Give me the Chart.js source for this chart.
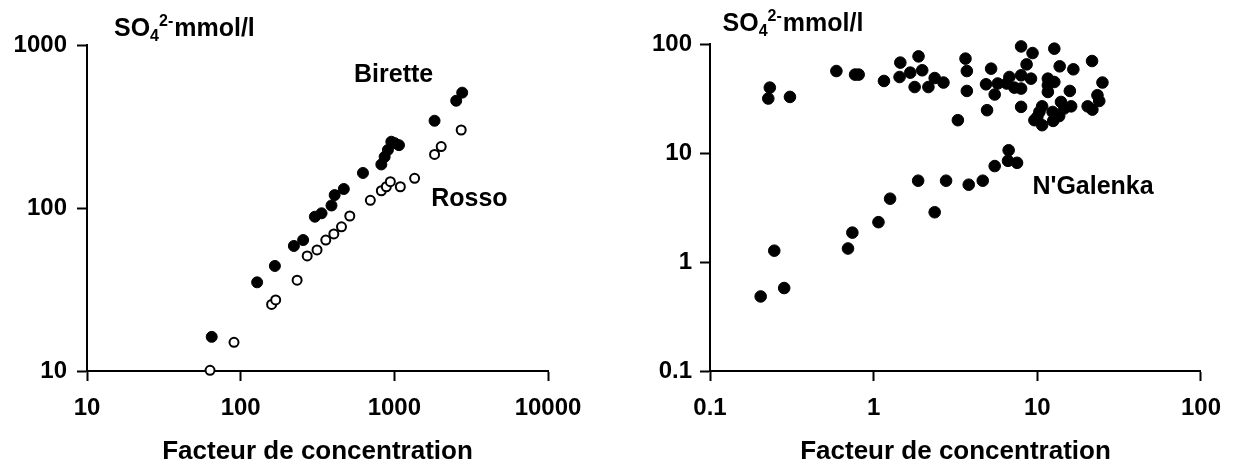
<!DOCTYPE html>
<html><head><meta charset="utf-8">
<script src="https://cdn.jsdelivr.net/npm/chart.js@4.4.1/dist/chart.umd.min.js"></script>
<style>
html,body{margin:0;padding:0;background:#fff;width:1234px;height:467px;overflow:hidden}
.c{position:absolute;top:0;height:467px;width:617px}
#wl{left:0}
#wr{left:617px}
</style></head><body>
<div class="c" id="wl"><canvas id="cl"></canvas></div>
<div class="c" id="wr"><canvas id="cr"></canvas></div>
<script>
const FONT = "'Liberation Sans', Arial, sans-serif";

// tick values
const leftXTicks = [10, 100, 1000, 10000];
const leftYTicks = [10, 100, 1000];
const rightXTicks = [0.1, 1, 10, 100];
const rightYTicks = [0.1, 1, 10, 100];

// Left chart: Birette (filled) and Rosso (open)
const biretteX = [64.8, 128, 167, 222, 255, 304, 336, 390, 409, 469, 625, 823, 865, 908, 956, 1005, 1072, 1827, 2527, 2765];
const biretteY = [16.2, 35.0, 44.1, 58.5, 63.6, 88.4, 92.8, 103.6, 120, 130.8, 164, 185, 206, 227, 255, 250, 243, 343, 455, 510];
const rossoX = [63.2, 90.5, 159, 169, 233, 271, 314, 358, 404, 453, 513, 698, 823, 887, 942, 1094, 1355, 1827, 2018, 2723];
const rossoY = [10.1, 15.0, 25.6, 27.3, 36.1, 50.8, 55.3, 63.6, 69.3, 76.7, 89.3, 111.4, 127.6, 135, 145, 135, 152, 213, 238, 301];

// Right chart: N'Galenka
const ngalenkaX = [0.204, 0.284, 0.247, 0.697, 0.741, 1.07, 1.26, 1.87, 2.36, 2.77, 3.81, 4.64, 5.49, 6.68, 6.62, 7.52,
  0.232, 0.227, 0.308, 0.592, 0.77, 0.81, 1.156, 1.455, 1.44, 1.674, 1.88, 1.98, 1.78, 2.16, 2.36, 2.67,
  3.64, 3.71, 3.71, 3.27, 4.93, 5.22, 4.86, 5.49, 5.73, 6.75, 6.5, 7.24, 7.96, 9.35, 8.6, 7.96, 7.96, 9.15, 7.96,
  12.7, 13.7, 11.6, 11.6, 12.7, 11.6, 15.8, 16.6, 21.6, 25, 23.3, 23.9, 20.3, 21.7,
  10.7, 10.3, 9.6, 10.7, 10.0, 12.5, 12.4, 13.95, 13.6, 16.1, 14.6];
const ngalenkaY = [0.483, 0.577, 1.27, 1.33, 1.86, 2.32, 3.81, 5.57, 2.86, 5.57, 5.12, 5.57, 7.59, 10.6, 8.48, 8.13,
  39.8, 31.6, 32.7, 56.5, 52.4, 52.4, 45.8, 67.5, 49.8, 54.6, 77, 57.4, 40.3, 40.3, 48.7, 44.3,
  73.4, 56.5, 37.1, 20.0, 24.7, 59.4, 42.7, 34.4, 43.4, 49.8, 43.4, 39.8, 95, 82.6, 65, 51.6, 39, 48.1, 26.5,
  90.6, 62.4, 48.1, 41.8, 44.8, 36.3, 37.1, 58.6, 69.8, 44.3, 33.9, 30, 26.8, 25,
  26.8, 23.8, 20, 18, 21.4, 19.7, 23.8, 29.4, 21.8, 26.8, 25.6];

const xTitle = 'Facteur de concentration';
const yTitleParts = { main: 'SO', sub: '4', sup: '2-', unit: 'mmol/l' };
const leftLabels = [{ text: 'Birette', x: 990, y: 655 }, { text: 'Rosso', x: 3080, y: 113.5 }];
const rightLabels = [{ text: "N'Galenka", x: 21.9, y: 4.88 }];

function pts(xs, ys) { return xs.map((x, i) => ({ x: x, y: ys[i] })); }

function logAxis(ticksArr, isX, min, max, size, pad) {
  return {
    type: 'logarithmic', min: min, max: max, position: isX ? 'bottom' : 'left',
    afterBuildTicks: s => { s.ticks = ticksArr.map(v => ({ value: v })); },
    afterFit: s => { if (isX) s.height = size; else s.width = size; },
    grid: { display: true, drawOnChartArea: false, drawTicks: true, tickLength: 10, tickWidth: 2, tickColor: '#000' },
    border: { display: true, color: '#000', width: 2 },
    ticks: { color: '#000', font: { family: FONT, size: 24, weight: 'bold' }, padding: pad,
      autoSkip: false, maxRotation: 0, callback: v => String(v) },
    title: isX ? { display: true, text: xTitle, color: '#000', font: { family: FONT, size: 26, weight: 'bold', lineHeight: 1.2 }, padding: 0 } : { display: false }
  };
}

const labelPlugin = {
  id: 'textLabels',
  afterDatasetsDraw(chart, args, opts) {
    const ctx = chart.ctx, xs = chart.scales.x, ys = chart.scales.y;
    ctx.save();
    ctx.fillStyle = '#000';
    ctx.font = 'bold 25px ' + FONT;
    ctx.textAlign = 'center';
    ctx.textBaseline = 'middle';
    for (const a of opts.items) ctx.fillText(a.text, xs.getPixelForValue(a.x), ys.getPixelForValue(a.y));
    // y axis title with subscript/superscript
    let x = chart.chartArea.left + opts.titleDx;
    const base = opts.titleBase;
    ctx.textAlign = 'left';
    ctx.textBaseline = 'alphabetic';
    ctx.font = 'bold 25px ' + FONT;
    ctx.fillText(yTitleParts.main, x, base);
    x += ctx.measureText(yTitleParts.main).width;
    ctx.font = 'bold 16px ' + FONT;
    ctx.fillText(yTitleParts.sub, x, base + 5);
    const wsub = ctx.measureText(yTitleParts.sub).width;
    ctx.fillText(yTitleParts.sup, x + wsub, base - 10);
    x += wsub + ctx.measureText(yTitleParts.sup).width + 1;
    ctx.font = 'bold 25px ' + FONT;
    ctx.fillText(yTitleParts.unit, x, base);
    ctx.restore();
  }
};

const filled = { pointRadius: 5.5, pointBackgroundColor: '#000', pointBorderColor: '#000', pointBorderWidth: 1, showLine: false, clip: false };
const open = { pointRadius: 4.5, pointBackgroundColor: '#fff', pointBorderColor: '#000', pointBorderWidth: 2, showLine: false, clip: false };

new Chart(document.getElementById('cl'), {
  type: 'scatter',
  data: { datasets: [
    Object.assign({ label: 'Birette', data: pts(biretteX, biretteY) }, filled),
    Object.assign({ label: 'Rosso', data: pts(rossoX, rossoY) }, open)
  ] },
  options: {
    responsive: true, maintainAspectRatio: false, animation: false,
    layout: { padding: { left: 0, right: 69, top: 45, bottom: 0 } },
    scales: { x: logAxis(leftXTicks, true, 10, 10000, 96, 13), y: logAxis(leftYTicks, false, 10, 1000, 87, 10) },
    plugins: { legend: { display: false }, tooltip: { enabled: false },
      textLabels: { items: leftLabels, titleDx: 27, titleBase: 36 } }
  },
  plugins: [labelPlugin]
});

new Chart(document.getElementById('cr'), {
  type: 'scatter',
  data: { datasets: [
    Object.assign({ label: "N'Galenka", data: pts(ngalenkaX, ngalenkaY) }, filled, { pointRadius: 5.8 })
  ] },
  options: {
    responsive: true, maintainAspectRatio: false, animation: false,
    layout: { padding: { left: 0, right: 31.5, top: 44, bottom: 0 } },
    scales: { x: logAxis(rightXTicks, true, 0.1, 100, 96, 13), y: logAxis(rightYTicks, false, 0.1, 100, 93, 8) },
    plugins: { legend: { display: false }, tooltip: { enabled: false },
      textLabels: { items: rightLabels, titleDx: 12.6, titleBase: 31 } }
  },
  plugins: [labelPlugin]
});
</script>
</body></html>
